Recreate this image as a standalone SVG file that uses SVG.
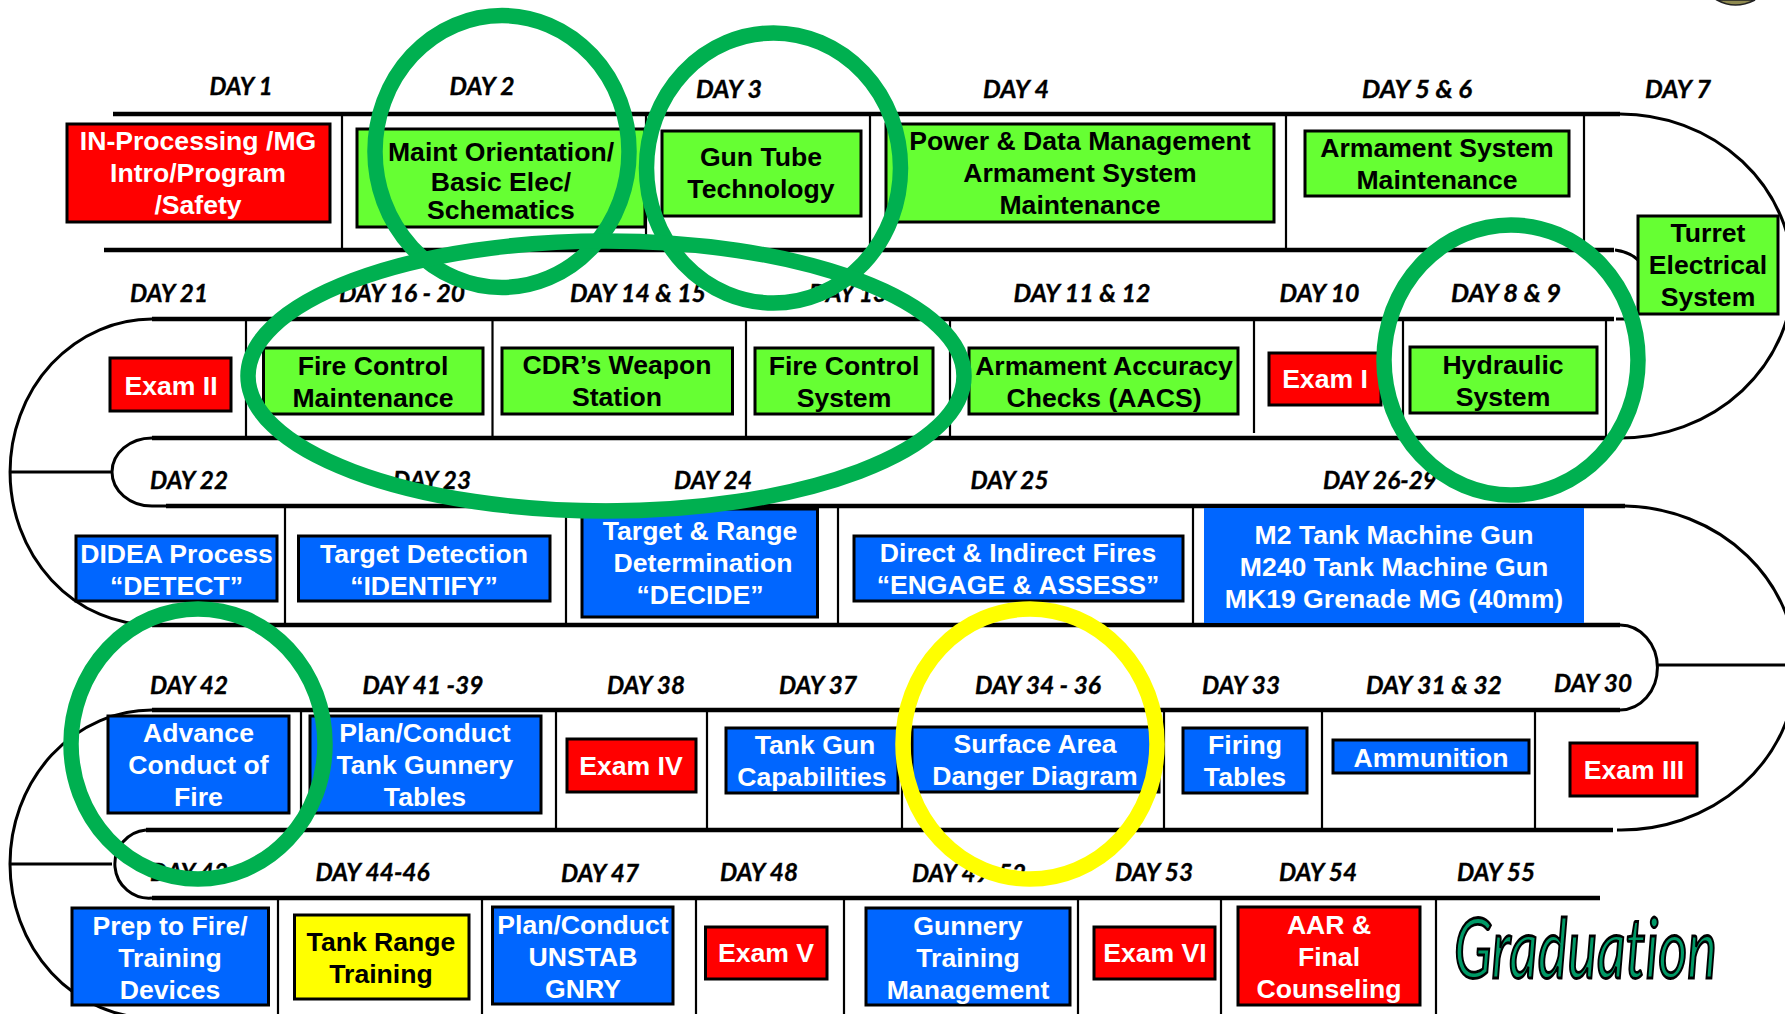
<svg xmlns="http://www.w3.org/2000/svg" width="1785" height="1014" viewBox="0 0 1785 1014">
<style>
text{font-family:"Liberation Sans",Arial,sans-serif;font-weight:700}
text.d{font-family:Lato,"Liberation Sans",sans-serif;font-size:24px;font-style:italic;fill:#000;stroke:#000;stroke-width:.35;text-anchor:middle;font-weight:700;font-variant-ligatures:none}
.t{font-size:26.6px;text-anchor:middle;transform:translateY(-.8px)}
.k{fill:#000}.w{fill:#fff}
.bx{stroke:#000;stroke-width:3}
.g{fill:#66ff33}.b{fill:#0066ff}.r{fill:#f00}.y{fill:#ff0}
.h{stroke:#000;stroke-width:4.5;fill:none}
.v{stroke:#000;stroke-width:2.2;fill:none}
.a{stroke:#000;stroke-width:3;fill:none}
.o{fill:none;stroke:#00b050;stroke-width:15.5}
</style>
<rect width="1785" height="1014" fill="#fff"/>
<path d="M1717 0Q1735 10 1755 0Z" fill="#8f8a50" stroke="#222" stroke-width="1.5"/>
<g id="connectors">
<path class="h" d="M113 114H1620M104 250H1614M152 319H1614M152 438H1620M166 506H1625M152 625H1620M152 710H1620M146 830H1613M152 898H1600"/>
<path class="a" d="M1620 114A173 162 0 0 1 1620 438M1615 250Q1630 252 1638 260M1616 319H1626"/>
<path class="a" d="M152 319A142 153 0 0 0 152 625M166 506H152A40 34 0 0 1 152 438M10 472H112"/>
<path class="a" d="M1625 506A175 162 0 0 1 1617 830M1620 625A37 42 0 0 1 1620 710M1657 665H1785"/>
<path class="a" d="M152 710A142 154 0 0 0 152 1018M146 830A34 34 0 0 0 152 898M10 864H112"/>
<path class="v" d="M342 114V250M646 114V250M870 114V250M1286 114V250M1584 114V242M246 319V438M492.500 319V438M746 319V438M950 319V438M1254 319V433M1403 319V438M1606 319V438M285 506V625M566 506V625M838 506V625M1193 506V625M301 710V830M556 710V830M707 710V830M902 710V830M1164 710V830M1322 710V830M1535 710V830M278 898V1014M482 898V1014M696 898V1014M844 898V1014M1078 898V1014M1221 898V1014M1436 898V1014"/>
</g>
<g id="labels">
<text class="d" lengthAdjust="spacingAndGlyphs" textLength="63" x="241" y="95">DAY 1</text><text class="d" lengthAdjust="spacingAndGlyphs" textLength="65" x="482" y="95">DAY 2</text><text class="d" lengthAdjust="spacingAndGlyphs" textLength="66" x="729" y="98">DAY 3</text><text class="d" lengthAdjust="spacingAndGlyphs" textLength="66" x="1016" y="98">DAY 4</text><text class="d" lengthAdjust="spacingAndGlyphs" textLength="110" x="1417" y="98">DAY 5 &amp; 6</text><text class="d" lengthAdjust="spacingAndGlyphs" textLength="66" x="1678" y="98">DAY 7</text>
<text class="d" lengthAdjust="spacingAndGlyphs" textLength="78" x="169" y="302">DAY 21</text><text class="d" lengthAdjust="spacingAndGlyphs" textLength="126" x="402" y="302">DAY 16 - 20</text><text class="d" lengthAdjust="spacingAndGlyphs" textLength="136" x="638" y="302">DAY 14 &amp; 15</text><text class="d" lengthAdjust="spacingAndGlyphs" textLength="78" x="848" y="302">DAY 13</text><text class="d" lengthAdjust="spacingAndGlyphs" textLength="137" x="1082" y="302">DAY 11 &amp; 12</text><text class="d" lengthAdjust="spacingAndGlyphs" textLength="80" x="1319.500" y="302">DAY 10</text><text class="d" lengthAdjust="spacingAndGlyphs" textLength="110" x="1506" y="302">DAY 8 &amp; 9</text>
<text class="d" lengthAdjust="spacingAndGlyphs" textLength="78" x="189" y="489">DAY 22</text><text class="d" lengthAdjust="spacingAndGlyphs" textLength="78" x="432" y="489">DAY 23</text><text class="d" lengthAdjust="spacingAndGlyphs" textLength="78" x="713" y="489">DAY 24</text><text class="d" lengthAdjust="spacingAndGlyphs" textLength="78" x="1009.500" y="489">DAY 25</text><text class="d" lengthAdjust="spacingAndGlyphs" textLength="114" x="1380" y="489">DAY 26-29</text>
<text class="d" lengthAdjust="spacingAndGlyphs" textLength="78" x="189" y="694">DAY 42</text><text class="d" lengthAdjust="spacingAndGlyphs" textLength="121" x="423" y="694">DAY 41 -39</text><text class="d" lengthAdjust="spacingAndGlyphs" textLength="78" x="646" y="694">DAY 38</text><text class="d" lengthAdjust="spacingAndGlyphs" textLength="78" x="818" y="694">DAY 37</text><text class="d" lengthAdjust="spacingAndGlyphs" textLength="126" x="1038" y="694">DAY 34 - 36</text><text class="d" lengthAdjust="spacingAndGlyphs" textLength="78" x="1241" y="694">DAY 33</text><text class="d" lengthAdjust="spacingAndGlyphs" textLength="136" x="1434" y="694">DAY 31 &amp; 32</text><text class="d" lengthAdjust="spacingAndGlyphs" textLength="78" x="1593" y="692">DAY 30</text>
<text class="d" lengthAdjust="spacingAndGlyphs" textLength="78" x="189" y="881">DAY 43</text><text class="d" lengthAdjust="spacingAndGlyphs" textLength="114" x="372.500" y="881">DAY 44-46</text><text class="d" lengthAdjust="spacingAndGlyphs" textLength="78" x="600" y="882">DAY 47</text><text class="d" lengthAdjust="spacingAndGlyphs" textLength="78" x="759" y="881">DAY 48</text><text class="d" lengthAdjust="spacingAndGlyphs" textLength="114" x="969" y="882">DAY 49-52</text><text class="d" lengthAdjust="spacingAndGlyphs" textLength="78" x="1154" y="881">DAY 53</text><text class="d" lengthAdjust="spacingAndGlyphs" textLength="78" x="1318" y="881">DAY 54</text><text class="d" lengthAdjust="spacingAndGlyphs" textLength="78" x="1496" y="881">DAY 55</text>
</g>
<g id="n1"><rect class="r bx" x="67" y="124" width="263" height="98"/><text class="t w" x="198" y="151">IN-Processing /MG</text><text class="t w" x="198" y="183">Intro/Program</text><text class="t w" x="198" y="215">/Safety</text></g>
<g id="n2"><rect class="g bx" x="357" y="129" width="288" height="98"/><text class="t k" x="501" y="162">Maint Orientation/</text><text class="t k" x="501" y="192">Basic Elec/</text><text class="t k" x="501" y="220">Schematics</text></g>
<g id="n3"><rect class="g bx" x="662" y="131" width="199" height="85"/><text class="t k" x="761" y="167">Gun Tube</text><text class="t k" x="761" y="199">Technology</text></g>
<g id="n4"><rect class="g bx" x="886" y="124" width="388" height="98"/><text class="t k" x="1080" y="151">Power &amp; Data Management</text><text class="t k" x="1080" y="183">Armament System</text><text class="t k" x="1080" y="215">Maintenance</text></g>
<g id="n5"><rect class="g bx" x="1305" y="131" width="264" height="65"/><text class="t k" x="1437" y="158">Armament System</text><text class="t k" x="1437" y="190">Maintenance</text></g>
<g id="n6"><rect class="g bx" x="1638" y="216" width="140" height="98"/><text class="t k" x="1708" y="243">Turret</text><text class="t k" x="1708" y="275">Electrical</text><text class="t k" x="1708" y="307">System</text></g>
<g id="n7"><rect class="r bx" x="110" y="358" width="121" height="53"/><text class="t w" x="171" y="396">Exam II</text></g>
<g id="n8"><rect class="g bx" x="263.500" y="348" width="219.500" height="66"/><text class="t k" x="373" y="376">Fire Control</text><text class="t k" x="373" y="408">Maintenance</text></g>
<g id="n9"><rect class="g bx" x="502" y="348" width="230.500" height="66"/><text class="t k" x="617" y="375">CDR’s Weapon</text><text class="t k" x="617" y="407">Station</text></g>
<g id="n10"><rect class="g bx" x="755" y="348" width="178" height="66"/><text class="t k" x="844" y="376">Fire Control</text><text class="t k" x="844" y="408">System</text></g>
<g id="n11"><rect class="g bx" x="969" y="348" width="269" height="66"/><text class="t k" x="1104" y="376">Armament Accuracy</text><text class="t k" x="1104" y="408">Checks (AACS)</text></g>
<g id="n12"><rect class="r bx" x="1269" y="353" width="112" height="52"/><text class="t w" x="1325" y="389">Exam I</text></g>
<g id="n13"><rect class="g bx" x="1410" y="347" width="187" height="66"/><text class="t k" x="1503" y="375">Hydraulic</text><text class="t k" x="1503" y="407">System</text></g>
<g id="n14"><rect class="b bx" x="76" y="536" width="201" height="65"/><text class="t w" x="176.500" y="564">DIDEA Process</text><text class="t w" x="176.500" y="596">“DETECT”</text></g>
<g id="n15"><rect class="b bx" x="298.500" y="536" width="251.500" height="65"/><text class="t w" x="424" y="564">Target Detection</text><text class="t w" x="424" y="596">“IDENTIFY”</text></g>
<g id="n16"><rect class="b bx" x="582" y="509" width="235.500" height="108"/><text class="t w" x="700" y="541">Target &amp; Range</text><text class="t w" x="703" y="573">Determination</text><text class="t w" x="700" y="605">“DECIDE”</text></g>
<g id="n17"><rect class="b bx" x="854" y="536" width="329" height="65"/><text class="t w" x="1018" y="563">Direct &amp; Indirect Fires</text><text class="t w" x="1018" y="595">“ENGAGE &amp; ASSESS”</text></g>
<g id="n18"><rect class="b" x="1204" y="508" width="380" height="115"/><text class="t w" x="1394" y="545">M2 Tank Machine Gun</text><text class="t w" x="1394" y="577">M240 Tank Machine Gun</text><text class="t w" x="1394" y="609">MK19 Grenade MG (40mm)</text></g>
<g id="n19"><rect class="b bx" x="108" y="716" width="181" height="97"/><text class="t w" x="198.500" y="743">Advance</text><text class="t w" x="198.500" y="775">Conduct of</text><text class="t w" x="198.500" y="807">Fire</text></g>
<g id="n20"><rect class="b bx" x="310" y="716" width="231" height="97"/><text class="t w" x="425" y="743">Plan/Conduct</text><text class="t w" x="425" y="775">Tank Gunnery</text><text class="t w" x="425" y="807">Tables</text></g>
<g id="n21"><rect class="r bx" x="567" y="739" width="129" height="53"/><text class="t w" x="631" y="776">Exam IV</text></g>
<g id="n22"><rect class="b bx" x="726" y="728" width="172" height="65"/><text class="t w" x="815" y="755">Tank Gun</text><text class="t w" x="812" y="787">Capabilities</text></g>
<g id="n23"><rect class="b bx" x="912" y="727" width="247" height="65"/><text class="t w" x="1035" y="754">Surface Area</text><text class="t w" x="1035" y="786">Danger Diagram</text></g>
<g id="n24"><rect class="b bx" x="1183" y="728" width="124" height="65"/><text class="t w" x="1245" y="755">Firing</text><text class="t w" x="1245" y="787">Tables</text></g>
<g id="n25"><rect class="b bx" x="1333" y="740" width="196" height="33"/><text class="t w" x="1431" y="768">Ammunition</text></g>
<g id="n26"><rect class="r bx" x="1570" y="743" width="127" height="53"/><text class="t w" x="1634" y="780">Exam III</text></g>
<g id="n27"><rect class="b bx" x="72" y="908" width="196.500" height="97"/><text class="t w" x="170" y="936">Prep to Fire/</text><text class="t w" x="170" y="968">Training</text><text class="t w" x="170" y="1000">Devices</text></g>
<g id="n28"><rect class="y bx" x="294.500" y="915" width="174.500" height="84"/><text class="t k" x="381" y="952">Tank Range</text><text class="t k" x="381" y="984">Training</text></g>
<g id="n29"><rect class="b bx" x="492.500" y="907" width="180.500" height="97"/><text class="t w" x="583" y="935">Plan/Conduct</text><text class="t w" x="583" y="967">UNSTAB</text><text class="t w" x="583" y="999">GNRY</text></g>
<g id="n30"><rect class="r bx" x="705.500" y="927" width="121.500" height="52"/><text class="t w" x="766" y="963">Exam V</text></g>
<g id="n31"><rect class="b bx" x="866" y="908" width="204" height="97"/><text class="t w" x="968" y="936">Gunnery</text><text class="t w" x="968" y="968">Training</text><text class="t w" x="968" y="1000">Management</text></g>
<g id="n32"><rect class="r bx" x="1094" y="927" width="121" height="52"/><text class="t w" x="1155" y="963">Exam VI</text></g>
<g id="n33"><rect class="r bx" x="1238" y="907" width="182" height="98"/><text class="t w" x="1329" y="935">AAR &amp;</text><text class="t w" x="1329" y="967">Final</text><text class="t w" x="1329" y="999">Counseling</text></g>
<g id="n34"><text transform="translate(1454 978) scale(1 1.5)" x="0" y="0" font-size="56" fill="#009966" stroke="#000" stroke-width="2.4" vector-effect="non-scaling-stroke" textLength="263" lengthAdjust="spacingAndGlyphs" style="font-family:Lato,'Liberation Sans',sans-serif;font-weight:400;font-style:italic;font-variant-ligatures:none">Graduation</text></g>
<g id="highlights">
<ellipse class="o" cx="502" cy="151.500" rx="127" ry="136"/>
<ellipse class="o" cx="773.500" cy="168" rx="127" ry="135"/>
<ellipse class="o" cx="606" cy="376" rx="358" ry="135"/>
<ellipse class="o" cx="1511" cy="360" rx="127" ry="135"/>
<ellipse class="o" cx="198" cy="744" rx="127" ry="135"/>
<ellipse class="o" cx="1030" cy="744" rx="127" ry="135" style="stroke:#ff0"/>
</g>
</svg>
